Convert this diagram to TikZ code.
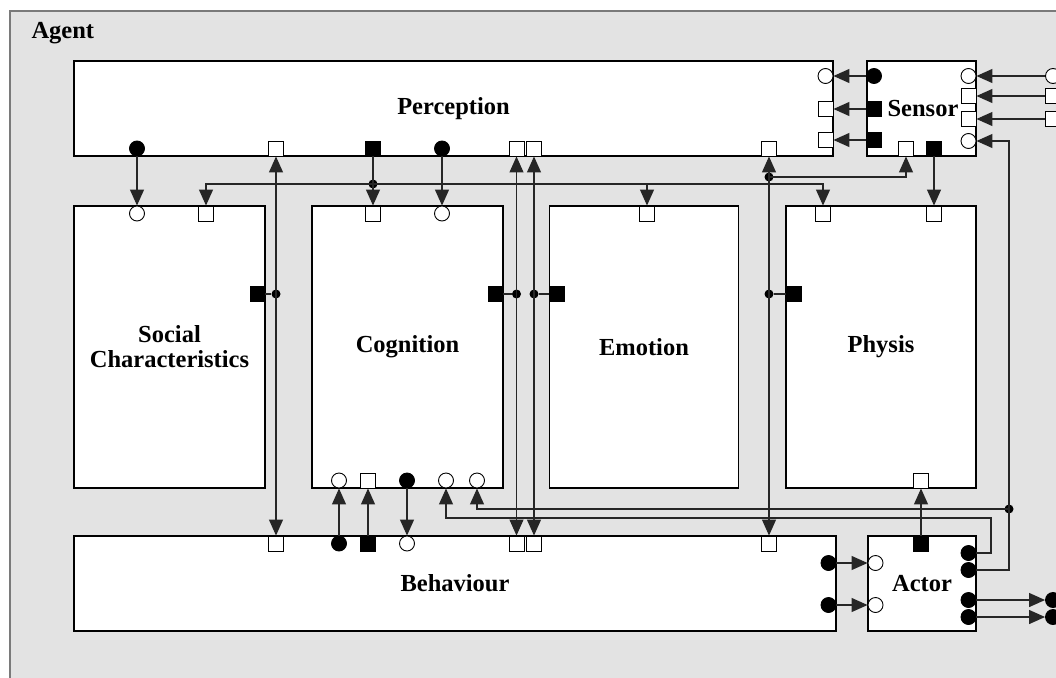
\documentclass[tikz,border=0pt]{standalone}
\usepackage{fontspec}
\setmainfont{Liberation Serif}
\usetikzlibrary{arrows.meta}
\definecolor{agentbg}{HTML}{E3E3E3}
\definecolor{agentline}{HTML}{7A7A7A}
\definecolor{wirecol}{HTML}{262626}
\begin{document}
\begin{tikzpicture}[x=1pt,y=-1pt,
  lbl/.style={font=\fontsize{24.5}{25}\selectfont\bfseries,align=center},
  box/.style={lbl,draw=black,fill=white,line width=1.2pt,inner sep=0pt,rectangle},
  osq/.style={rectangle,draw=black,fill=white,line width=0.9pt,minimum size=15pt,inner sep=0pt},
  fsq/.style={rectangle,draw=black,fill=black,line width=0.9pt,minimum size=15pt,inner sep=0pt},
  ocirc/.style={circle,draw=black,fill=white,line width=0.9pt,minimum size=15pt,inner sep=0pt},
  fcirc/.style={circle,draw=black,fill=black,line width=0.9pt,minimum size=15pt,inner sep=0pt},
  jdot/.style={circle,fill=black,minimum size=9pt,inner sep=0pt},
  wire/.style={draw=wirecol,line width=1.2pt},
  arr/.style={wire,-{Triangle[length=16pt,width=14pt]}},
]
\useasboundingbox (0,0) rectangle (1056,677);
\clip (0,0) rectangle (1056,677);

% outer agent frame (runs past the right and bottom edges)
\node[rectangle,draw=agentline,fill=agentbg,line width=2pt,minimum width=1080pt,minimum height=700pt,inner sep=0pt] (agentframe) at (550,361) {};
\node[lbl,anchor=base west] (agentlbl) at (28,39) {Agent};

% component boxes
\node[box,minimum width=759pt,minimum height=95pt] (perc) at (453.5,108.5) {Perception};
\node[box,minimum width=109pt,minimum height=95pt] (sens) at (921.5,108.5) {\hspace*{3pt}Sensor};
\node[box,minimum width=191pt,minimum height=282pt] (soc) at (169.5,347) {Social\\Characteristics};
\node[box,minimum width=191pt,minimum height=282pt] (cog) at (407.5,347) {Cognition};
\node[box,minimum width=189pt,minimum height=282pt] (emo) at (644,347) {Emotion};
\node[box,minimum width=190pt,minimum height=282pt] (phys) at (881,347) {Physis};
\node[box,minimum width=762pt,minimum height=95pt] (beh) at (455,583.5) {Behaviour};
\node[box,minimum width=108pt,minimum height=95pt] (act) at (922,583.5) {Actor};

% Perception ports
\node[ocirc] (pR1) at (825.5,76) {};
\node[osq] (pR2) at (825.5,109) {};
\node[osq] (pR3) at (825.5,140) {};
\node[fcirc] (pB1) at (137,148.5) {};
\node[osq] (pB2) at (276,148.5) {};
\node[fsq] (pB3) at (373,148.5) {};
\node[fcirc] (pB4) at (442,148.5) {};
\node[osq] (pB5) at (516.5,148.5) {};
\node[osq] (pB6) at (534,148.5) {};
\node[osq] (pB7) at (769,148.5) {};

% Sensor ports
\node[fcirc] (sL1) at (874,76) {};
\node[fsq] (sL2) at (874,109) {};
\node[fsq] (sL3) at (874,140) {};
\node[ocirc] (sR1) at (968.5,76) {};
\node[osq] (sR2) at (968.5,96) {};
\node[osq] (sR3) at (968.5,119) {};
\node[ocirc] (sR4) at (968.5,141) {};
\node[osq] (sB1) at (906,148.5) {};
\node[fsq] (sB2) at (934,148.5) {};

% environment inputs
\node[ocirc] (env1) at (1053,76) {};
\node[osq] (env2) at (1053,96) {};
\node[osq] (env3) at (1053,119) {};

% Social characteristics ports
\node[ocirc] (soT1) at (137,213.5) {};
\node[osq] (soT2) at (206,213.5) {};
\node[fsq] (soR) at (257.5,294) {};

% Cognition ports
\node[osq] (cT1) at (373,213.5) {};
\node[ocirc] (cT2) at (442,213.5) {};
\node[fsq] (cR) at (495.5,294) {};
\node[ocirc] (cB1) at (339,480.5) {};
\node[osq] (cB2) at (368,480.5) {};
\node[fcirc] (cB3) at (407,480.5) {};
\node[ocirc] (cB4) at (446,480.5) {};
\node[ocirc] (cB5) at (477,480.5) {};

% Emotion ports
\node[osq] (eT) at (647,213.5) {};
\node[fsq] (eL) at (557,294) {};

% Physis ports
\node[osq] (phT1) at (823,213.5) {};
\node[osq] (phT2) at (934,213.5) {};
\node[fsq] (phL) at (793.5,294) {};
\node[osq] (phB) at (921,480.5) {};

% Behaviour ports
\node[osq] (bT4) at (276,543.5) {};
\node[fcirc] (bT1) at (339,543.5) {};
\node[fsq] (bT2) at (368,543.5) {};
\node[ocirc] (bT3) at (407,543.5) {};
\node[osq] (bT5) at (516.5,543.5) {};
\node[osq] (bT6) at (534,543.5) {};
\node[osq] (bT7) at (769,543.5) {};
\node[fcirc] (bR1) at (828.5,563) {};
\node[fcirc] (bR2) at (828.5,605) {};

% Actor ports
\node[ocirc] (aL1) at (875.5,563) {};
\node[ocirc] (aL2) at (875.5,605) {};
\node[fsq] (aT) at (921,543.5) {};
\node[fcirc] (aR1) at (968.5,553) {};
\node[fcirc] (aR2) at (968.5,570) {};
\node[fcirc] (aR3) at (968.5,600) {};
\node[fcirc] (aR4) at (968.5,617) {};

% environment outputs
\node[fcirc] (out1) at (1053,600) {};
\node[fcirc] (out2) at (1053,617) {};

% junction dots
\node[jdot] (d1) at (373,184) {};
\node[jdot] (d2) at (769,177) {};
\node[jdot] (d3) at (276,294) {};
\node[jdot] (d4) at (516.5,294) {};
\node[jdot] (d5) at (534,294) {};
\node[jdot] (d6) at (769,294) {};
\node[jdot] (d7) at (1009,509) {};
\coordinate (k1) at (991,518);

% Perception to the inner components
\draw[arr] (pB1) -- (soT1);
\draw[arr] (pB3) -- (cT1);
\draw[arr] (d1.center) -| (soT2);
\draw[arr] (d1.center) -| (eT);
\draw[arr] (d1.center) -| (phT1);
\draw[arr] (pB4) -- (cT2);

% shared buses to Perception and Behaviour
\draw[wire] (soR) -- (d3);
\draw[arr] (d3.center) -- (pB2);
\draw[arr] (d3.center) -- (bT4);
\draw[wire] (cR) -- (d4);
\draw[arr] (d4.center) -- (pB5);
\draw[arr] (d4.center) -- (bT5);
\draw[wire] (eL) -- (d5);
\draw[arr] (d5.center) -- (pB6);
\draw[arr] (d5.center) -- (bT6);
\draw[wire] (phL) -- (d6);
\draw[arr] (d6.center) -- (pB7);
\draw[arr] (d6.center) -- (bT7);
\draw[arr] (d2.center) -| (sB1);

% Sensor
\draw[arr] (sB2) -- (phT2);
\draw[arr] (sL1) -- (pR1);
\draw[arr] (sL2) -- (pR2);
\draw[arr] (sL3) -- (pR3);
\draw[arr] (env1) -- (sR1);
\draw[arr] (env2) -- (sR2);
\draw[arr] (env3) -- (sR3);

% Cognition and Behaviour
\draw[arr] (bT1) -- (cB1);
\draw[arr] (bT2) -- (cB2);
\draw[arr] (cB3) -- (bT3);

% Actor feedback and outputs
\draw[arr] (aR2) -| (d7.center) |- (sR4);
\draw[arr] (d7.center) -| (cB5);
\draw[arr] (aR1) -| (k1) -| (cB4);
\draw[arr] (aT) -- (phB);
\draw[arr] (bR1) -- (aL1);
\draw[arr] (bR2) -- (aL2);
\draw[arr] (aR3) -- (out1);
\draw[arr] (aR4) -- (out2);
\end{tikzpicture}
\end{document}
